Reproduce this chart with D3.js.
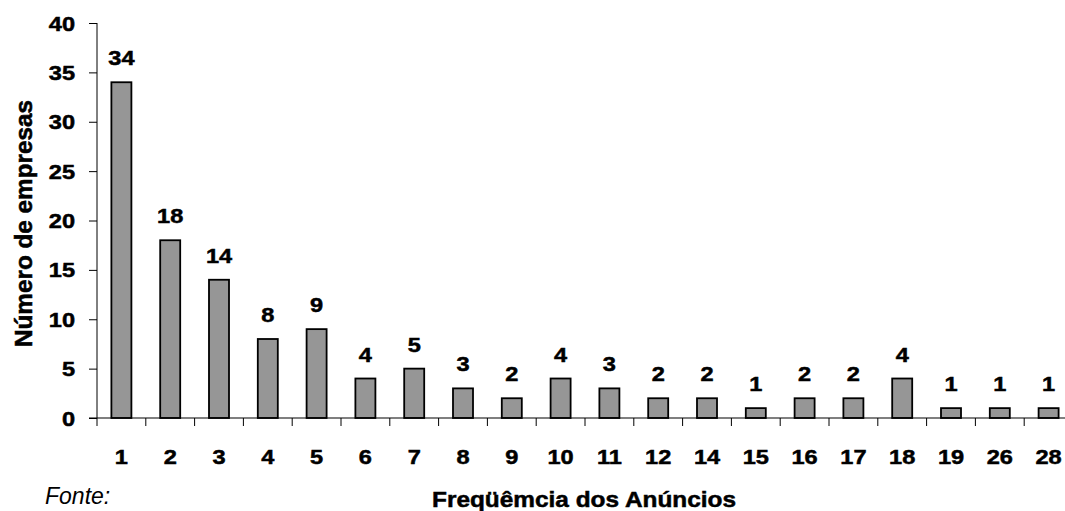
<!DOCTYPE html>
<html>
<head>
<meta charset="utf-8">
<script src="https://cdn.jsdelivr.net/npm/d3@7"></script>
<style>
  html, body { margin: 0; padding: 0; background: #fff; }
  svg { display: block; font-family: "Liberation Sans", Arial, sans-serif; }
</style>
</head>
<body>
<svg id="chart" width="1065" height="511"></svg>
<script>
// Frequency of announcements vs. number of companies
const categories = ["1", "2", "3", "4", "5", "6", "7", "8", "9", "10",
                    "11", "12", "14", "15", "16", "17", "18", "19", "26", "28"];
const empresas = [34, 18, 14, 8, 9, 4, 5, 3, 2, 4, 3, 2, 2, 1, 2, 2, 4, 1, 1, 1];
const yTicks = [0, 5, 10, 15, 20, 25, 30, 35, 40];
const xTitle = "Freqüêmcia dos Anúncios";
const yTitle = "Número de empresas";
const sourceNote = "Fonte:";

const svg = d3.select("#chart");
const plot = { left: 97, right: 1073, top: 23, bottom: 418 };
const textScaleX = 1.15;

const x = d3.scaleBand().domain(categories).range([plot.left, plot.right]).padding(0);
const y = d3.scaleLinear().domain([0, 40]).range([plot.bottom, plot.top]);
const barW = x.bandwidth() * 0.41;

// bars
svg.append("g").selectAll("rect")
  .data(empresas)
  .join("rect")
  .attr("x", (d, i) => x(categories[i]) + x.bandwidth() / 2 - barW / 2)
  .attr("y", d => y(d))
  .attr("width", barW)
  .attr("height", d => y(0) - y(d))
  .attr("fill", "#969696")
  .attr("stroke", "#000")
  .attr("stroke-width", 1.8);

// y axis
const yAxis = d3.axisLeft(y).tickValues(yTicks).tickSize(8).tickFormat("");
const gy = svg.append("g").attr("transform", `translate(${plot.left},0)`).call(yAxis);
gy.select(".domain").attr("d", `M0,${plot.top}V${plot.bottom + 8}`).attr("stroke", "#000");
gy.selectAll(".tick line").attr("stroke", "#000");

// x axis (ticks at band boundaries)
const boundaries = categories.map(c => x(c)).concat([plot.right]);
svg.append("line")
  .attr("x1", plot.left - 8).attr("x2", plot.right)
  .attr("y1", plot.bottom).attr("y2", plot.bottom)
  .attr("stroke", "#000").attr("stroke-width", 1.2);
svg.append("g").selectAll("line")
  .data(boundaries.slice(1))
  .join("line")
  .attr("x1", d => d).attr("x2", d => d)
  .attr("y1", plot.bottom).attr("y2", plot.bottom + 8)
  .attr("stroke", "#000").attr("stroke-width", 1);

function stretchedText(parent, px, py, str, anchor) {
  return parent.append("text")
    .attr("transform", `translate(${px},${py}) scale(${textScaleX},1)`)
    .attr("text-anchor", anchor)
    .attr("font-size", 20.5)
    .attr("font-weight", "bold")
    .attr("fill", "#000")
    .attr("stroke", "#000")
    .attr("stroke-width", 0.5)
    .text(str);
}

// y tick labels
const gyl = svg.append("g");
yTicks.forEach(t => stretchedText(gyl, 75, y(t) + 7.5, String(t), "end"));

// x tick labels
const gxl = svg.append("g");
categories.forEach(c => stretchedText(gxl, x(c) + x.bandwidth() / 2, 464, c, "middle"));

// value labels
const gv = svg.append("g");
empresas.forEach((v, i) => stretchedText(gv, x(categories[i]) + x.bandwidth() / 2, y(v) - 17, String(v), "middle"));

// axis titles
svg.append("text")
  .attr("x", 584).attr("y", 507)
  .attr("text-anchor", "middle")
  .attr("font-size", 22).attr("font-weight", "bold")
  .attr("stroke", "#000").attr("stroke-width", 0.5)
  .attr("textLength", 304).attr("lengthAdjust", "spacingAndGlyphs")
  .text(xTitle);

svg.append("text")
  .attr("transform", "translate(32,223.5) rotate(-90) scale(1,1.08)")
  .attr("text-anchor", "middle")
  .attr("font-size", 22).attr("font-weight", "bold")
  .attr("stroke", "#000").attr("stroke-width", 0.5)
  .attr("textLength", 247).attr("lengthAdjust", "spacingAndGlyphs")
  .text(yTitle);

// source note
svg.append("text")
  .attr("x", 45).attr("y", 504)
  .attr("font-size", 23).attr("font-style", "italic")
  .text(sourceNote);
</script>
</body>
</html>
